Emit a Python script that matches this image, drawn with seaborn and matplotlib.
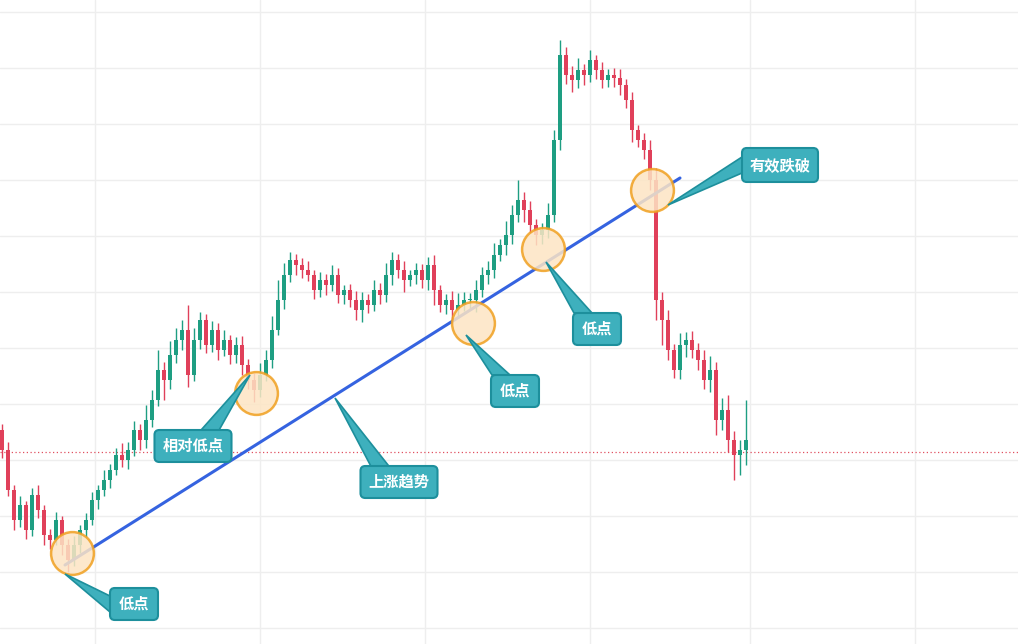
import matplotlib
matplotlib.use("Agg")
import matplotlib.pyplot as plt
import seaborn as sns
import numpy as np
import pandas as pd
from matplotlib.patches import FancyBboxPatch, Polygon, Circle

sns.set_theme(style="white")
plt.rcParams['font.family'] = ['Noto Sans CJK SC', 'DejaVu Sans']

close = [194,154,124,139,114,149,134,109,104,124,
         99,84,99,114,124,144,154,164,174,189,
         184,194,214,204,224,244,274,264,289,304,
         314,269,304,324,299,314,294,304,289,299,
         279,264,254,269,284,314,344,369,384,379,
         374,369,354,364,359,369,349,354,344,334,
         344,339,354,349,369,384,374,364,369,374,
         364,379,354,339,344,334,339,344,344,354,
         369,374,389,399,409,429,444,434,419,409,
         414,429,504,589,569,564,574,569,584,574,
         564,569,566,559,544,514,504,494,464,344,
         324,294,274,299,304,294,284,264,274,224,
         234,204,189,194,204]
first_open = 214
upper = [6,8,5,9,4,7,10,5,6,8, 4,6,9,5,7,8,5,10,6,7, 12,8,9,6,15,10,20,8,14,12,
         10,25,12,8,6,9,7,10,5,8, 9,6,7,12,10,14,20,12,8,6, 7,9,5,8,6,10,7,5,6,9,
         8,6,10,7,12,8,6,9,5,7, 6,8,10,5,6,9,12,8,7,10, 8,9,12,6,14,10,20,8,9,6,
         7,12,10,15,8,9,12,6,10,5, 8,6,7,9,6,8,5,7,10,12, 8,10,6,12,8,9,7,10,14,8,
         12,15,9,10,40]
lower = [8,6,10,7,9,6,8,10,9,5, 10,12,6,8,7,5,9,6,8,5, 7,9,6,10,8,7,6,20,9,8,
         10,12,6,9,8,7,10,6,9,8, 10,9,12,7,6,8,5,9,7,10, 8,6,9,7,10,6,8,9,7,10,
         12,8,6,9,7,10,8,12,6,9, 8,10,15,7,9,10,8,6,9,12, 7,9,8,6,10,9,7,12,8,10,
         9,8,7,10,9,12,8,10,7,9, 8,7,9,10,8,12,7,9,10,20, 25,10,8,9,12,8,10,9,12,15,
         10,12,25,20,15]
ref_level = 192

n = len(close)
opens = [first_open] + close[:-1]
df = pd.DataFrame({"i": np.arange(n), "open": opens, "close": close})
df["high"] = np.maximum(df.open, df.close) + np.array(upper)
df["low"] = np.minimum(df.open, df.close) - np.array(lower)
df["up"] = df.close >= df.open

W, H = 1018, 644
fig = plt.figure(figsize=(W/100, H/100), dpi=100)
ax = fig.add_axes([0, 0, 1, 1])
ax.set_xlim(-2/6, (W-2)/6)
ax.set_ylim(0, H)

def P(xp, yp):
    return ((xp-2)/6, H-yp)

# grid
for xp in [95, 260, 425, 590, 750, 915]:
    ax.axvline(P(xp, 0)[0], color="#eeeeee", lw=1, zorder=0)
for yp in [12, 68, 124, 180, 236, 292, 348, 404, 460, 516, 572, 628]:
    ax.axhline(H-yp, color="#eeeeee", lw=1, zorder=0)
ax.axhline(ref_level, color="#e05060", lw=0.9, ls=(0, (1, 2)), zorder=1)

green, red = "#1e9e82", "#e0405a"
cols = np.where(df.up, green, red)
ax.vlines(df.i, df.low, df.high, colors=cols, lw=1, zorder=2)
body = np.abs(df.close - df.open).clip(lower=1.5)
ax.bar(df.i, body, bottom=np.minimum(df.open, df.close), width=0.6, color=cols, zorder=3, linewidth=0)

# trend line
x0, y0 = P(65, 565); x1, y1 = P(680, 178)
sns.lineplot(x=[x0, x1], y=[y0, y1], color="#3563e0", lw=2.2, ax=ax, zorder=4)

# circles
for (xp, yp) in [(72, 553), (256, 393), (473, 323), (543, 249), (652, 190)]:
    cx, cy = P(xp, yp)
    ax.add_patch(Circle((xp, H-yp), 0, visible=False))
    ax.scatter([cx], [cy], s=950, facecolor="#fde5c4", edgecolor="#f0a020", lw=1.8, alpha=0.85, zorder=5)

# callouts (pixel coords)
def callout(text, cx, cy, w, h, tx, ty):
    box_x0 = cx - w/2; box_y0 = cy - h/2
    # pointer base on nearest side
    dx, dy = tx - cx, ty - cy
    if abs(dx)/w > abs(dy)/h:
        sx = box_x0 if dx < 0 else box_x0 + w
        base = [(sx, cy - 8), (sx, cy + 8)]
    else:
        sy = box_y0 if dy < 0 else box_y0 + h
        bx = cx + np.clip(dx*0.3, -w/2+10, w/2-10)
        base = [(bx - 9, sy), (bx + 9, sy)]
    pts = [P(*base[0]), P(tx, ty), P(*base[1])]
    ax.add_patch(Polygon(pts, closed=True, fc="#3eb0bd", ec="#1d8f9c", lw=1.2, zorder=6))
    bl = P(box_x0, box_y0 + h)
    ax.add_patch(FancyBboxPatch(bl, w/6, h, boxstyle="round,pad=0,rounding_size=0.8",
                                mutation_aspect=6, fc="#3eb0bd", ec="#1d8f9c", lw=1.5, zorder=7))
    ax.text(*P(cx, cy), text, color="white", fontsize=11, fontweight="bold",
            ha="center", va="center", zorder=8)

callout("低点", 134, 604, 48, 32, 65, 574)
callout("相对低点", 193, 446, 77, 32, 250, 375)
callout("上涨趋势", 399, 482, 77, 32, 335, 398)
callout("低点", 515, 391, 48, 32, 466, 335)
callout("低点", 597, 329, 48, 32, 546, 262)
callout("有效跌破", 780, 165, 76, 34, 668, 205)

ax.set_xticks([]); ax.set_yticks([])
for s in ax.spines.values():
    s.set_visible(False)
fig.savefig("out.png", dpi=100)
